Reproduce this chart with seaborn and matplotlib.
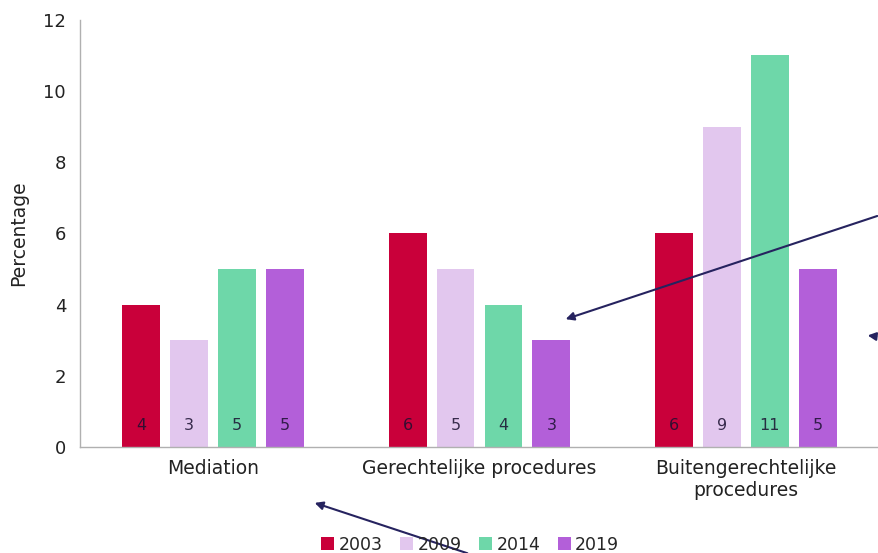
import pandas as pd
import matplotlib.pyplot as plt
import seaborn as sns

# Data
categories = ['Mediation', 'Gerechtelijke procedures', 'Buitengerechtelijke\nprocedures']
years = ['2003', '2009', '2014', '2019']
v2003 = [4, 6, 6]
v2009 = [3, 5, 9]
v2014 = [5, 4, 11]
v2019 = [5, 3, 5]
colors = ['#C9003A', '#E2C7EE', '#6ED7A9', '#B35FD9']

rows = []
for year, vals in zip(years, [v2003, v2009, v2014, v2019]):
    for cat, v in zip(categories, vals):
        rows.append({'categorie': cat, 'jaar': year, 'percentage': v})
df = pd.DataFrame(rows)

sns.set_style('white')
plt.rcParams['font.family'] = ['DejaVu Sans']

fig = plt.figure(figsize=(8.79, 5.53), dpi=100)
ax = fig.add_axes([0.091, 0.1917, 0.909, 0.7723])

sns.barplot(data=df, x='categorie', y='percentage', hue='jaar', order=categories,
            hue_order=years, palette=colors, width=0.72, gap=0.21, saturation=1,
            errorbar=None, linewidth=0, ax=ax)

# value labels at the bottom of each bar
for container in ax.containers:
    for bar in container:
        h = bar.get_height()
        ax.text(bar.get_x() + bar.get_width() / 2, 0.6, f'{h:.0f}', ha='center', va='center',
                fontsize=11.5, color='#1a1030', alpha=0.85)

ax.set_xlim(-0.5, 2.5)
ax.set_ylim(0, 12)
ax.set_yticks(range(0, 13, 2))
ax.set_xlabel('')
ax.set_ylabel('Percentage', fontsize=13.5, color='#222222', labelpad=11)
ax.tick_params(axis='y', labelsize=13, colors='#222222', length=4, width=0.8, color='#b0b0b0', pad=6)
ax.tick_params(axis='x', labelsize=13.5, colors='#222222', length=0, pad=9)
for side in ['top', 'right']:
    ax.spines[side].set_visible(False)
for side in ['left', 'bottom']:
    ax.spines[side].set_color('#b0b0b0')
    ax.spines[side].set_linewidth(1)

handles, labels = ax.get_legend_handles_labels()
ax.legend(handles, labels, loc='center', bbox_to_anchor=(0.535, 0.015),
          bbox_transform=fig.transFigure, ncol=4, frameon=False, fontsize=12.5,
          handlelength=0.75, handleheight=0.75, handletextpad=0.25, columnspacing=1.0)

# navy annotation arrows drawn over the chart
arrow = dict(arrowstyle='-|>', color='#26235f', lw=1.5, mutation_scale=12)
ax.annotate('', xy=(0.6405, 0.4213), xytext=(1.001, 0.611), xycoords='figure fraction',
            textcoords='figure fraction', arrowprops=arrow)
ax.annotate('', xy=(0.984, 0.394), xytext=(1.0, 0.391), xycoords='figure fraction',
            textcoords='figure fraction', arrowprops=arrow)
ax.annotate('', xy=(0.355, 0.0922), xytext=(0.5347, -0.002), xycoords='figure fraction',
            textcoords='figure fraction', arrowprops=arrow)

fig.savefig('out.png', dpi=100)
